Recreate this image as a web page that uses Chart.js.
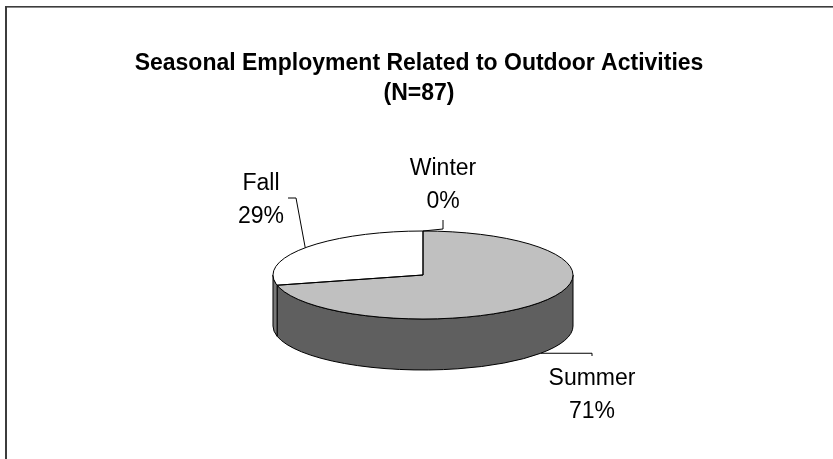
<!DOCTYPE html>
<html>
<head>
<meta charset="utf-8">
<title>Seasonal Employment Related to Outdoor Activities</title>
<script src="https://cdn.jsdelivr.net/npm/chart.js@4.4.1/dist/chart.umd.min.js"></script>
<style>
    html, body { margin: 0; padding: 0; background: #fff; }
    #wrap { width: 833px; height: 459px; }
</style>
</head>
<body>
<div id="wrap"><canvas id="pieChart" width="833" height="459"></canvas></div>
<script>
// datos
var seasons = ['Summer', 'Fall', 'Winter'];
var counts = [62, 25, 0];
var titleLines = ['Seasonal Employment Related to Outdoor Activities', '(N=87)'];

var topColors = ['#c0c0c0', '#ffffff', '#ffffff'];
var sideColors = ['#5f5f5f', '#777777', '#777777'];

// forma del pastel 3D (centro de la tapa, semieje vertical, grosor)
var pie3d = { cx: 423, cy: 275, ry: 44, depth: 51 };

// donde va cada etiqueta (centro x, primera linea base) y como sale su guia
var labelSpots = [
    { x: 592, y: 385, leader: 'below' },
    { x: 261, y: 190, leader: 'left' },
    { x: 443, y: 175, leader: 'above' }
];
var labelFont = '23px "Liberation Sans", Arial, sans-serif';
var lineGap = 33;

function rimPoint(r, ang, dy) {
    return { x: pie3d.cx + r * Math.cos(ang), y: pie3d.cy + dy + pie3d.ry * Math.sin(ang) };
}

var fondo = {
    id: 'fondo',
    beforeDraw: function (chart) {
        var ctx = chart.ctx;
        ctx.save();
        ctx.fillStyle = '#fff';
        ctx.fillRect(0, 0, chart.width, chart.height);
        ctx.fillStyle = '#3c3c3c';
        ctx.fillRect(5, 6, 2, chart.height - 6);
        ctx.fillRect(5, 6, chart.width - 5, 1.6);
        ctx.restore();
    }
};

var pie3dPlugin = {
    id: 'pie3d',
    beforeDatasetsDraw: function (chart) {
        var ctx = chart.ctx;
        var arcs = chart.getDatasetMeta(0).data;
        var r = arcs[0].outerRadius;

        // paredes de delante
        for (var i = 0; i < arcs.length; i++) {
            var a = Math.max(arcs[i].startAngle, 0);
            var b = Math.min(arcs[i].endAngle, Math.PI);
            if (b <= a) continue;
            ctx.beginPath();
            ctx.ellipse(pie3d.cx, pie3d.cy, r, pie3d.ry, 0, a, b, false);
            ctx.ellipse(pie3d.cx, pie3d.cy + pie3d.depth, r, pie3d.ry, 0, b, a, true);
            ctx.closePath();
            ctx.fillStyle = sideColors[i];
            ctx.fill();
            ctx.lineWidth = 1;
            ctx.strokeStyle = '#000';
            ctx.stroke();
        }

        // la tapa la pinta Chart.js, aplastada
        ctx.save();
        ctx.translate(pie3d.cx, pie3d.cy);
        ctx.scale(1, pie3d.ry / r);
        ctx.translate(-arcs[0].x, -arcs[0].y);
    },
    afterDatasetsDraw: function (chart) {
        var ctx = chart.ctx;
        ctx.restore();

        var arcs = chart.getDatasetMeta(0).data;
        var r = arcs[0].outerRadius;
        ctx.save();
        ctx.lineWidth = 1;
        ctx.strokeStyle = '#000';
        ctx.beginPath();
        ctx.ellipse(pie3d.cx, pie3d.cy, r, pie3d.ry, 0, 0, Math.PI * 2);
        ctx.stroke();
        for (var i = 0; i < arcs.length; i++) {
            if (arcs[i].endAngle - arcs[i].startAngle <= 0) continue;
            var p1 = rimPoint(r, arcs[i].startAngle, 0);
            var p2 = rimPoint(r, arcs[i].endAngle, 0);
            ctx.beginPath();
            ctx.moveTo(p1.x, p1.y);
            ctx.lineTo(pie3d.cx, pie3d.cy);
            ctx.lineTo(p2.x, p2.y);
            ctx.stroke();
        }
        ctx.restore();
    },
    afterDraw: function (chart) {
        var ctx = chart.ctx;
        var arcs = chart.getDatasetMeta(0).data;
        var r = arcs[0].outerRadius;
        var total = counts.reduce(function (s, v) { return s + v; }, 0);

        ctx.save();
        ctx.font = labelFont;
        ctx.fillStyle = '#000';
        ctx.strokeStyle = '#000';
        ctx.lineWidth = 1;
        ctx.textAlign = 'center';
        ctx.textBaseline = 'alphabetic';

        for (var i = 0; i < seasons.length; i++) {
            var spot = labelSpots[i];
            var pct = Math.round(counts[i] / total * 100) + '%';
            ctx.fillText(seasons[i], spot.x, spot.y);
            ctx.fillText(pct, spot.x, spot.y + lineGap);

            var mid = (arcs[i].startAngle + arcs[i].endAngle) / 2;
            var w = Math.max(ctx.measureText(seasons[i]).width, ctx.measureText(pct).width);
            ctx.beginPath();
            if (spot.leader === 'below') {
                var an = rimPoint(r, mid, pie3d.depth);
                ctx.moveTo(an.x, an.y);
                ctx.lineTo(spot.x, an.y);
                ctx.lineTo(spot.x, spot.y - 29);
            } else if (spot.leader === 'above') {
                var at = rimPoint(r, mid, 0);
                ctx.moveTo(at.x, at.y);
                ctx.lineTo(spot.x, at.y - 2);
                ctx.lineTo(spot.x, spot.y + lineGap + 12);
            } else {
                var al = rimPoint(r, mid, 0);
                var ex = spot.x + w / 2 + 4;
                ctx.moveTo(al.x, al.y);
                ctx.lineTo(ex + 8, spot.y + 8);
                ctx.lineTo(ex, spot.y + 8);
            }
            ctx.stroke();
        }
        ctx.restore();
    }
};

var pieChart = new Chart(document.getElementById('pieChart').getContext('2d'), {
    type: 'pie',
    data: {
        labels: seasons,
        datasets: [{
            data: counts,
            backgroundColor: topColors,
            borderWidth: 0,
            clip: false
        }]
    },
    options: {
        responsive: false,
        animation: false,
        events: [],
        layout: { padding: { left: 5, right: 0, top: 0, bottom: 40 } },
        plugins: {
            legend: { display: false },
            tooltip: { enabled: false },
            title: {
                display: true,
                text: titleLines,
                color: '#000',
                font: { family: '"Liberation Sans", Arial, sans-serif', size: 23, weight: 'bold', lineHeight: 1.304 },
                padding: { top: 49, bottom: 10 }
            }
        }
    },
    plugins: [fondo, pie3dPlugin]
});
</script>
</body>
</html>
